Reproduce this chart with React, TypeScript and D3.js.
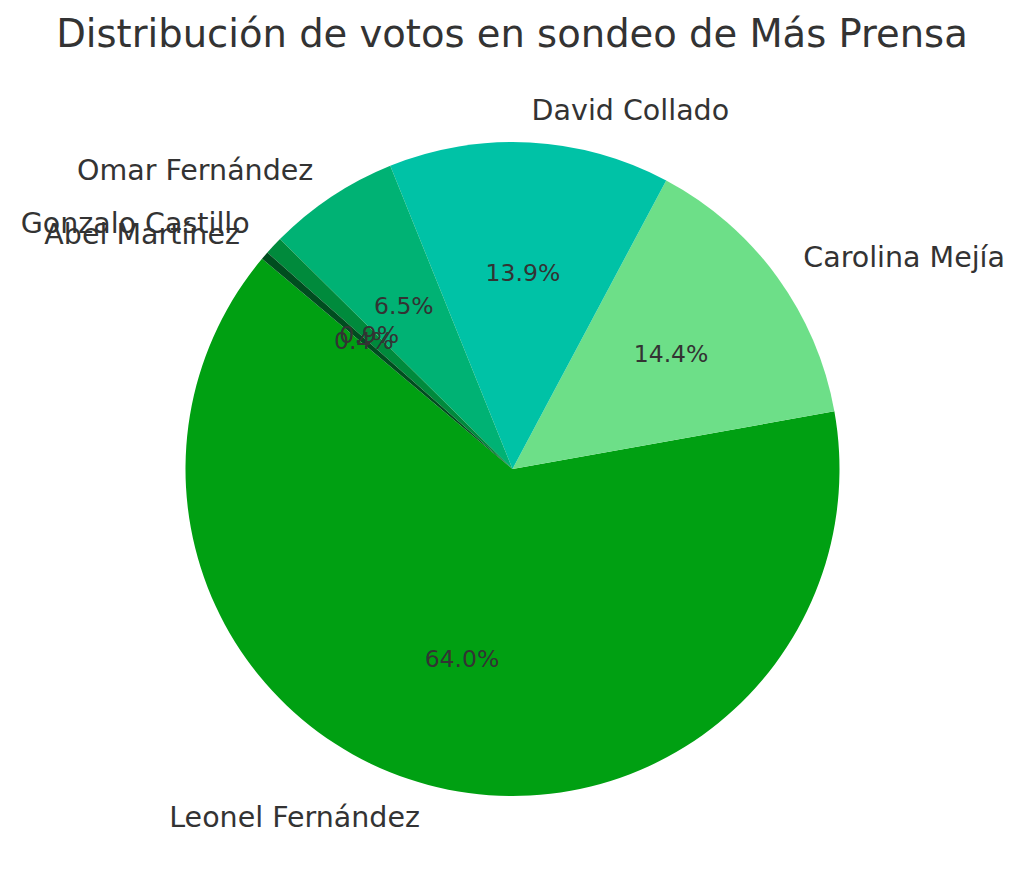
import React from "react";
import * as d3 from "d3";

const candidates = ["Leonel Fernández", "Carolina Mejía", "David Collado", "Omar Fernández", "Gonzalo Castillo", "Abel Martínez"];
const votes = [64.0, 14.4, 13.9, 6.5, 0.9, 0.4];
const colors = ["#00a012", "#6ddf88", "#00c2a6", "#00b274", "#008a3c", "#004d1f"];

export default function App() {
  const width = 1024;
  const height = 895;
  const cx = 512.5;
  const cy = 469;
  const r = 327;
  const start = 140; // degrees, counter-clockwise from east

  const toRad = (deg: number) => (deg * Math.PI) / 180;
  const pie = d3
    .pie<number>()
    .sort(null)
    .startAngle(toRad(90 - start))
    .endAngle(toRad(90 - start - 360));
  const arcs = pie(votes);
  const arc = d3.arc<d3.PieArcDatum<number>>().innerRadius(0).outerRadius(r);

  const pos = (a: number, dist: number) => [Math.sin(a) * r * dist, -Math.cos(a) * r * dist];

  return (
    <svg width={width} height={height} style={{ display: "block", position: "absolute", left: 0, top: 0 }} fontFamily="DejaVu Sans" fill="#333">
      <rect width={width} height={height} fill="#fff" />
      <text x={width / 2} y={47} textAnchor="middle" fontSize={38.5} fill="#333">
        Distribución de votos en sondeo de Más Prensa
      </text>
      <g transform={`translate(${cx},${cy})`}>
        {arcs.map((d, i) => (
          <path key={i} d={arc(d) || ""} fill={colors[i]} />
        ))}
        {arcs.map((d, i) => {
          const mid = (d.startAngle + d.endAngle) / 2;
          const [lx, ly] = pos(mid, 1.1);
          const [px, py] = pos(mid, 0.6);
          return (
            <g key={i}>
              <text x={lx} y={ly} dy="0.35em" fontSize={28.5} textAnchor={lx < 0 ? "end" : "start"} fill="#333">
                {candidates[i]}
              </text>
              <text x={px} y={py} dy="0.35em" fontSize={23.5} textAnchor="middle" fill="#333">
                {votes[i].toFixed(1)}%
              </text>
            </g>
          );
        })}
      </g>
    </svg>
  );
}
